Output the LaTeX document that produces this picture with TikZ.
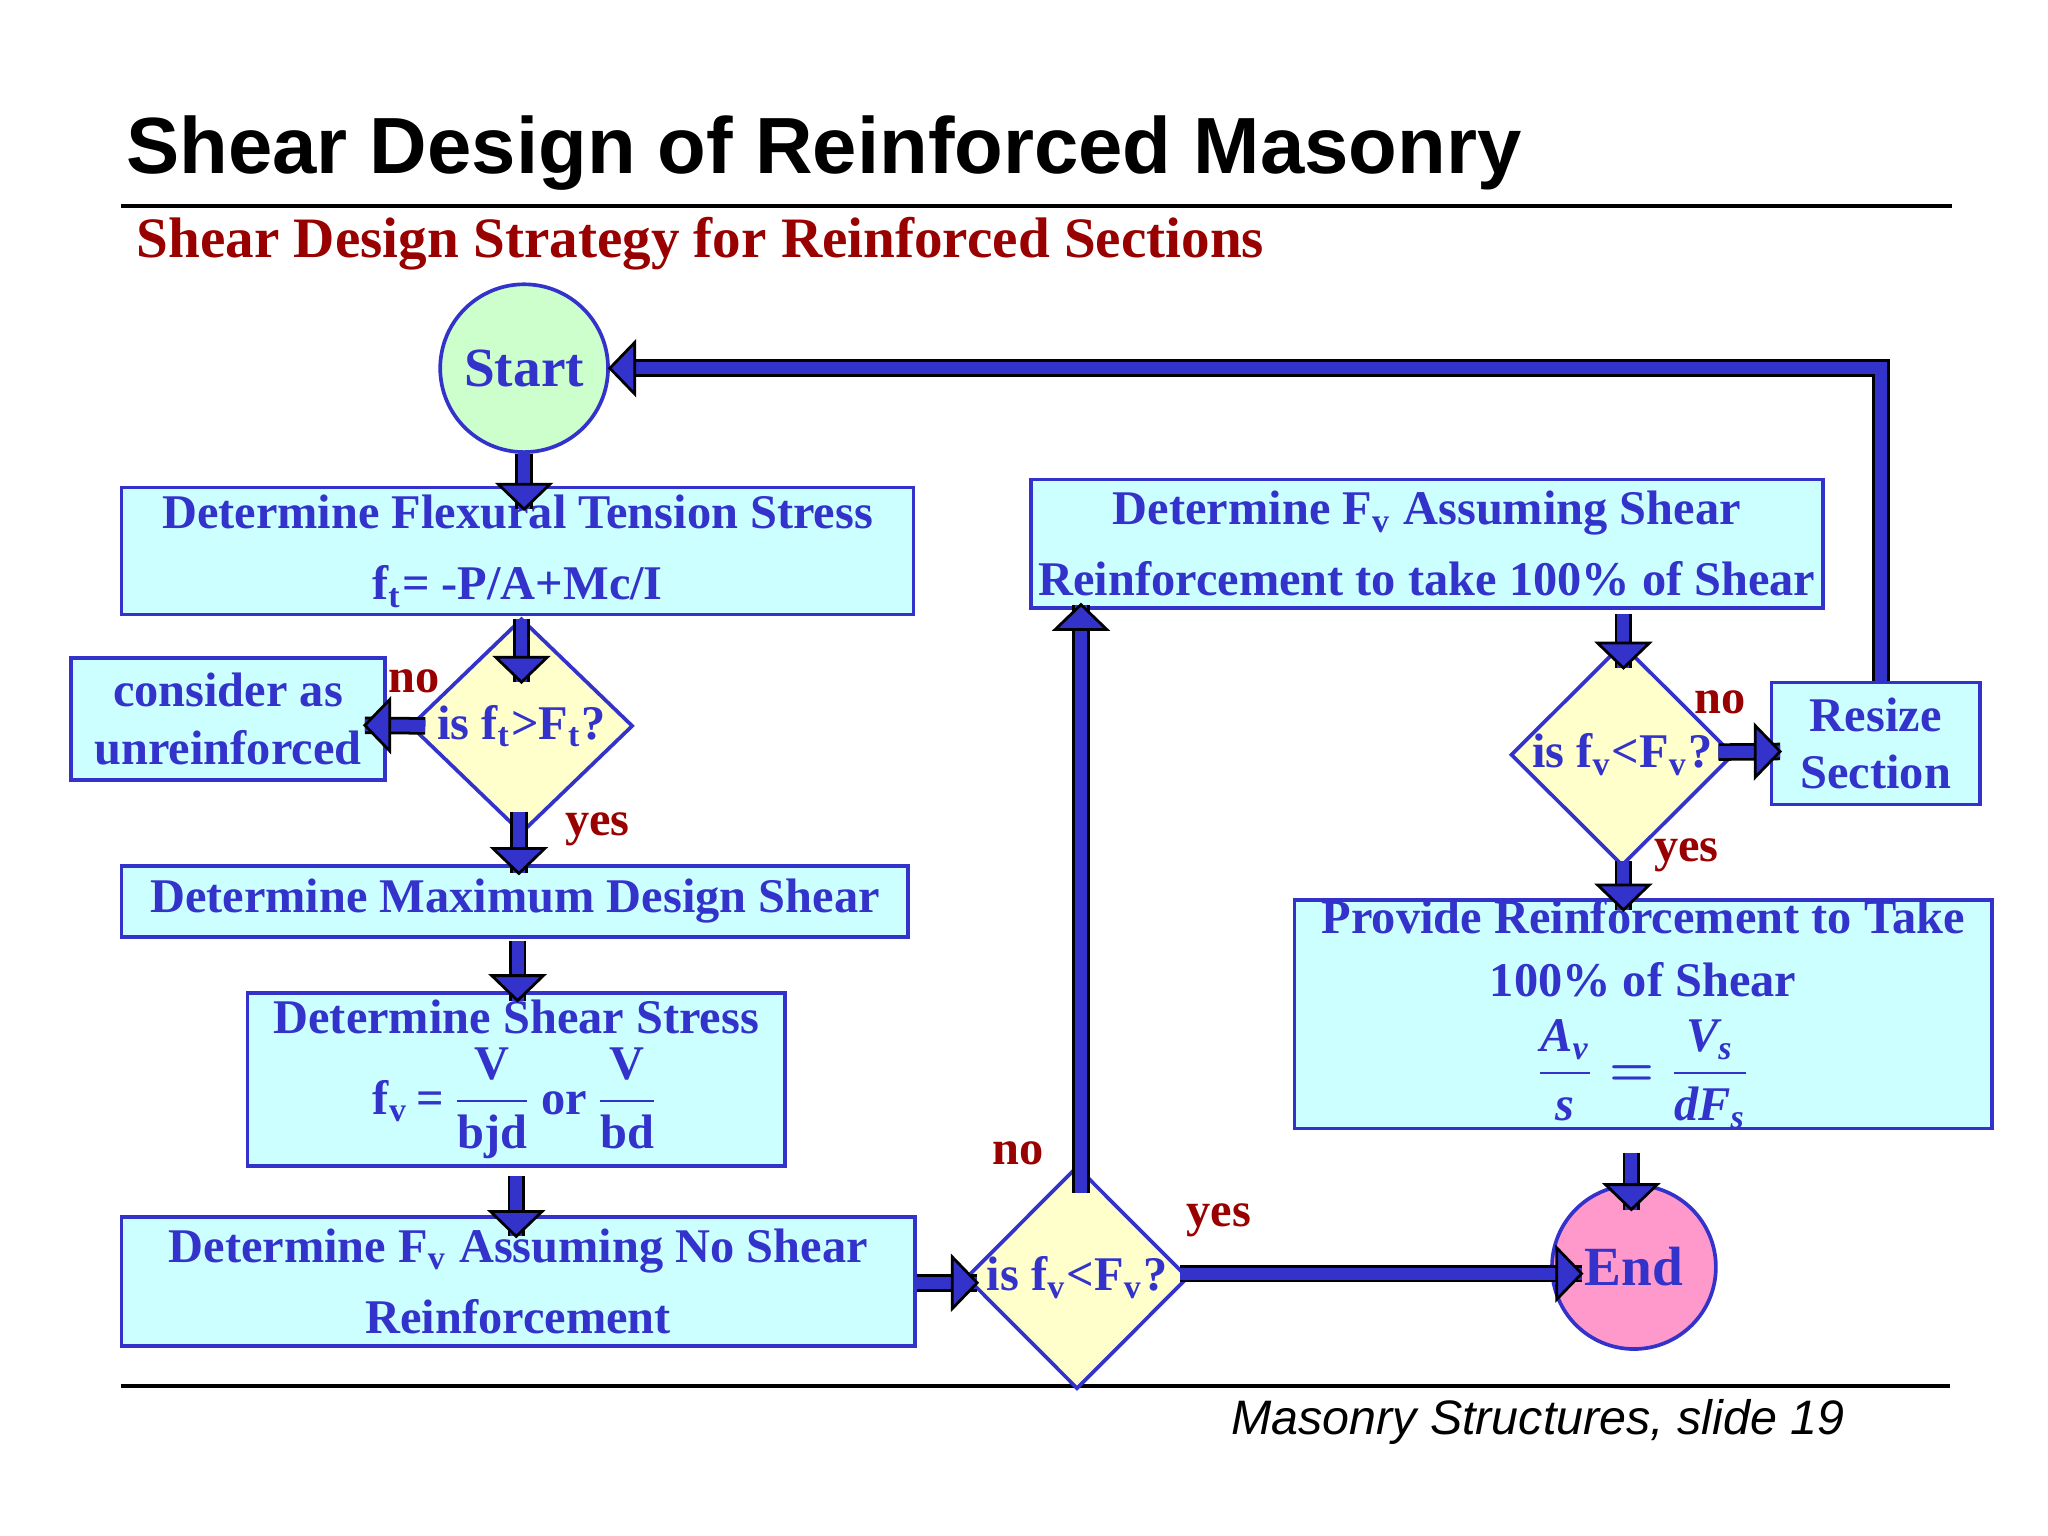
\documentclass[tikz,border=0pt]{standalone}
\usepackage{fontspec}
\usepackage{amsmath}
\setmainfont{Liberation Serif}
\newfontfamily\arialf{Liberation Sans}
\usetikzlibrary{calc,shapes.geometric}
\definecolor{tblue}{HTML}{3333CC}
\definecolor{tred}{HTML}{990000}
\definecolor{bcyan}{HTML}{CCFFFF}
\definecolor{dyel}{HTML}{FFFFCC}
\definecolor{sgreen}{HTML}{CCFFCC}
\definecolor{epink}{HTML}{FF99CC}
\newcommand{\ahd}[2]{\filldraw[fill=tblue,draw=black,line width=0.6pt,line join=miter,shift={#1},rotate=#2] (0,0) -- (-5.4pt,5.6pt) -- (-5.4pt,-5.6pt) -- cycle;}
\begin{document}
\begin{tikzpicture}[x=0.01cm,y=-0.01cm,
  box/.style={draw=tblue,line width=0.8pt,fill=bcyan,inner sep=0pt,text=tblue,font=\bfseries\fontsize{10.5}{12.5}\selectfont,align=center},
  dia/.style={diamond,draw=tblue,line width=0.8pt,fill=dyel,inner sep=0pt,text=tblue,font=\bfseries\fontsize{10.5}{12.5}\selectfont,minimum width=1.7cm,minimum height=1.64cm},
  circ/.style={circle,draw=tblue,line width=0.8pt,inner sep=0pt,text=tblue,font=\bfseries\fontsize{12}{14}\selectfont},
  lbl/.style={text=tred,font=\bfseries\fontsize{10.5}{12}\selectfont},
  shaft/.style={draw=black,line width=0.6pt,double=tblue,double distance=2.6pt}]
\useasboundingbox[fill=white] (0,0) rectangle (1563,1172);
\node[anchor=west,font=\arialf\bfseries\fontsize{17.3}{20}\selectfont] (title) at (84,117) {Shear Design of Reinforced Masonry};
\draw[line width=0.8pt] (92,157) -- (1490,157);
\node[anchor=west,text=tred,font=\bfseries\fontsize{12.4}{15}\selectfont] (sub) at (92,186) {Shear Design Strategy for Reinforced Sections};
\draw[line width=0.8pt] (92,1058) -- (1488,1058);
\node[anchor=east,font=\arialf\itshape\fontsize{10.5}{12}\selectfont] (foot) at (1420,1085) {Masonry Structures, slide 19};

\node[circ,fill=sgreen,minimum size=1.28cm] (start) at (400,281) {Start};
\node[box,minimum width=6.04cm,minimum height=0.97cm] (b1) at (395,420.5) {Determine Flexural Tension Stress\\[3pt] f\textsubscript{t}= -P/A+Mc/I};
\node[dia] (d1) at (398,554) {is f\textsubscript{t}{\textgreater}F\textsubscript{t}?};
\node[box,minimum width=2.4cm,minimum height=0.93cm] (cons) at (174,548.5) {consider as\\ unreinforced};
\node[box,minimum width=6cm,minimum height=0.54cm] (b2) at (393,688) {Determine Maximum Design Shear};
\node[box,minimum width=4.1cm,minimum height=1.32cm] (b3) at (394,824) {Determine Shear Stress\\[2pt] f\textsubscript{v}\,=\,$\dfrac{\text{V}}{\text{bjd}}$\,or\,$\dfrac{\text{V}}{\text{bd}}$};
\node[box,minimum width=6.05cm,minimum height=0.98cm] (b4) at (395.5,978) {Determine F\textsubscript{v} Assuming No Shear\\[3pt] Reinforcement};
\node[dia,minimum width=1.65cm,minimum height=1.7cm] (d2) at (822,975) {is f\textsubscript{v}{\textless}F\textsubscript{v}?};
\node[circ,fill=epink,minimum size=1.25cm] (end) at (1247,967) {End};
\node[box,minimum width=6.04cm,minimum height=0.98cm] (b5) at (1089,415) {Determine F\textsubscript{v} Assuming Shear\\[3pt] Reinforcement to take 100\% of Shear};
\node[dia,minimum width=1.7cm,minimum height=1.58cm] (d3) at (1238,576) {is f\textsubscript{v}{\textless}F\textsubscript{v}?};
\node[box,minimum width=1.59cm,minimum height=0.93cm] (rs) at (1431.5,567.5) {Resize\\ Section};
\node[box,minimum width=5.32cm,minimum height=1.7cm] (b6) at (1254,774) {Provide Reinforcement to Take\\[1pt] 100\% of Shear\\[4pt] $\dfrac{\text{\itshape A\textsubscript{v}}}{\text{\itshape s}}\boldsymbol{=}\dfrac{\text{\itshape V\textsubscript{s}}}{\text{\itshape dF\textsubscript{s}}}$};

\node[lbl] (n1) at (316,520) {no};
\node[lbl] (y1) at (456,633) {yes};
\node[lbl] (n2) at (777,880) {no};
\node[lbl] (y2) at (930,931) {yes};
\node[lbl] (n3) at (1313,536) {no};
\node[lbl] (y3) at (1287,653) {yes};

% arrows
\coordinate (t1) at ($(b1.north)+(5,18)$);
\draw[shaft] (start.south) -- (t1); \ahd{(t1)}{-90}
\coordinate (t2) at ($(d1.north)+(0,50)$);
\draw[shaft] ($(b1.south)+(3,2)$) -- (t2); \ahd{(t2)}{-90}
\coordinate (t3) at ($(cons.east)+(-17,5)$);
\draw[shaft] ($(d1.west)+(13,0)$) -- (t3); \ahd{(t3)}{180}
\coordinate (t4) at ($(b2.north)+(3,7)$);
\draw[shaft] ($(d1.south)+(-2,-18)$) -- (t4); \ahd{(t4)}{-90}
\coordinate (t5) at ($(b3.north)+(1,7)$);
\draw[shaft] ($(b2.south)+(2,2)$) -- (t5); \ahd{(t5)}{-90}
\coordinate (t6) at ($(b4.north)+(-1.5,16)$);
\draw[shaft] ($(b3.south)+(0,6)$) -- (t6); \ahd{(t6)}{-90}
\coordinate (t7) at ($(d2.west)+(10,4)$);
\draw[shaft] ($(b4.east)+(0,1)$) -- (t7); \ahd{(t7)}{0}
\coordinate (t8) at ($(b5.south)+(-264,-4)$);
\draw[shaft] ($(d2.north)+(3,22)$) -- (t8); \ahd{(t8)}{90}
\coordinate (t9) at ($(end.west)+(24,5)$);
\draw[shaft] ($(d2.east)+(-8,-3)$) -- (t9); \ahd{(t9)}{0}
\coordinate (t10) at ($(d3.north)+(1,20)$);
\draw[shaft] ($(b5.south)+(150,3)$) -- (t10); \ahd{(t10)}{-90}
\coordinate (t11) at ($(rs.west)+(8,6)$);
\draw[shaft] ($(d3.east)+(-13,-2)$) -- (t11); \ahd{(t11)}{0}
\coordinate (t12) at ($(b6.north)+(-15,9)$);
\draw[shaft] ($(d3.south)+(1,-5)$) -- (t12); \ahd{(t12)}{-90}
\coordinate (t13) at ($(end.north)+(-2,20)$);
\draw[shaft] ($(b6.south)+(-9,17)$) -- (t13); \ahd{(t13)}{-90}
\coordinate (t14) at (start.east);
\draw[shaft,line join=miter] ($(rs.north)+(4,0)$) |- ($(t14)+(8,0)$); \ahd{(t14)}{180}
\end{tikzpicture}
\end{document}
